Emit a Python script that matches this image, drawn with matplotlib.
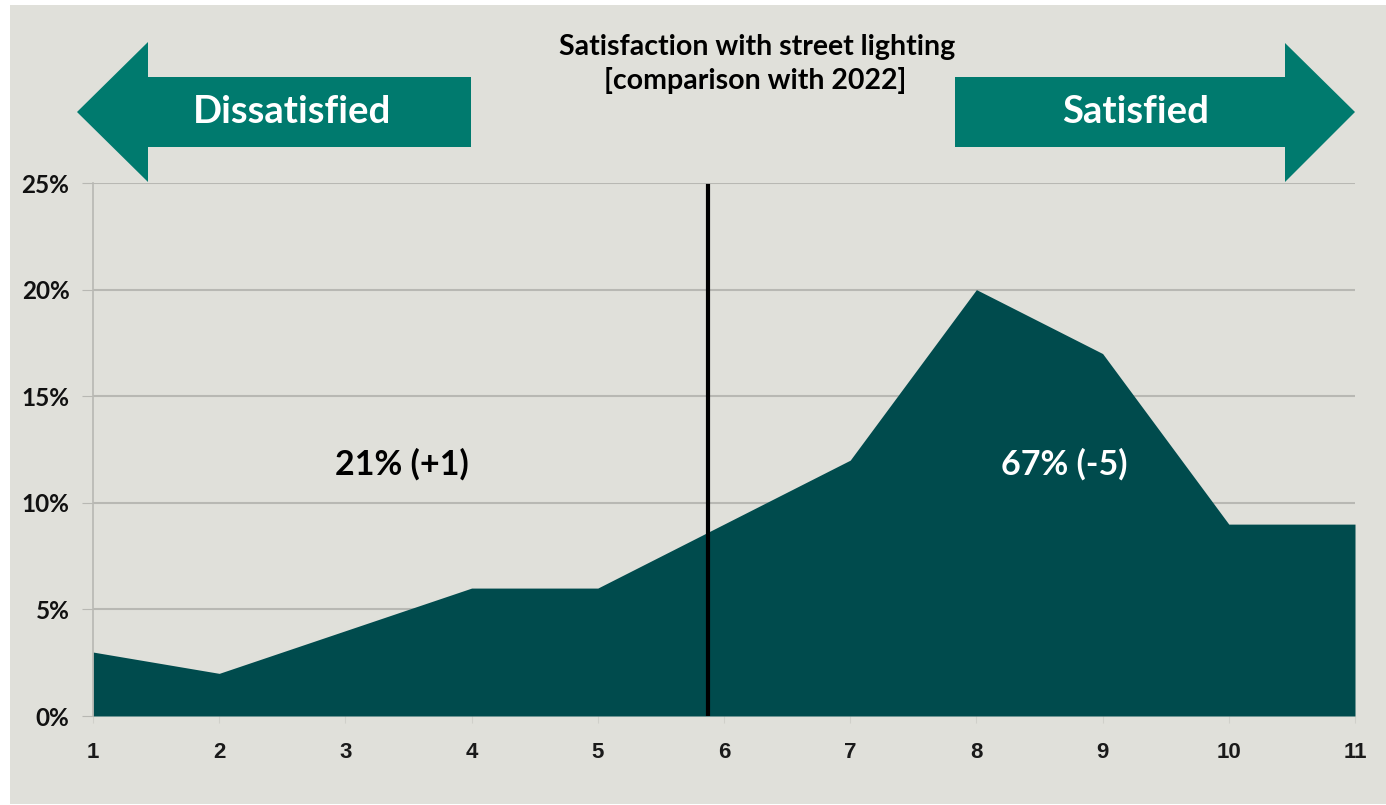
import matplotlib
matplotlib.use("Agg")
import matplotlib.pyplot as plt
from matplotlib.patches import Polygon, Rectangle
from matplotlib.ticker import PercentFormatter

# --- data ---
scores = [1, 2, 3, 4, 5, 6, 7, 8, 9, 10, 11]
share = [3, 2, 4, 6, 6, 9, 12, 20, 17, 9, 9]
split_at = 5.87
dissatisfied_label = "21% (+1)"
satisfied_label = "67% (-5)"
title_lines = ["Satisfaction with street lighting", "[comparison with 2022]"]

BG = "#e0e0da"
FILL = "#004b4d"
ARROW = "#007a6e"
GRID = "#b8b8b3"

W, H = 1386, 805
fig = plt.figure(figsize=(W / 100, H / 100), dpi=100)
fig.patch.set_facecolor("white")

# grey panel inside a thin white border
fig.patches.append(Rectangle((10 / W, 1 - 804 / H), (W - 10) / W, 799 / H,
                             transform=fig.transFigure, facecolor=BG,
                             edgecolor="none", zorder=-5))


def px(x, y):
    return (x / W, 1 - y / H)


# direction arrows
left_arrow = [px(77, 112), px(148, 42), px(148, 77), px(471, 77),
              px(471, 147), px(148, 147), px(148, 182)]
right_arrow = [px(1355, 112), px(1285, 43), px(1285, 77), px(955, 77),
               px(955, 147), px(1285, 147), px(1285, 182)]
for pts in (left_arrow, right_arrow):
    fig.patches.append(Polygon(pts, closed=True, transform=fig.transFigure,
                               facecolor=ARROW, edgecolor="none", zorder=1))

fig.text(*px(292, 112), "Dissatisfied", color="white", fontsize=27.5,
         fontweight="bold", family="Lato", ha="center", va="center", zorder=2)
fig.text(*px(1136, 112), "Satisfied", color="white", fontsize=27.5,
         fontweight="bold", family="Lato", ha="center", va="center", zorder=2)
fig.text(*px(757, 47), title_lines[0], fontsize=20.5, fontweight="bold",
         family="Lato", ha="center", va="center", zorder=2)
fig.text(*px(755, 81), title_lines[1], fontsize=20.5, fontweight="bold",
         family="Lato", ha="center", va="center", zorder=2)

ax = fig.add_axes([93 / W, 1 - 716 / H, (1355 - 93) / W, (716 - 183) / H])
ax.set_facecolor("none")
ax.fill_between(scores, share, 0, color=FILL, linewidth=0, zorder=2)
ax.axvline(split_at, ymin=0, ymax=0.995, color="black", linewidth=3, zorder=3)

ax.text(3.45, 11.8, dissatisfied_label, fontsize=24.5, fontweight="bold",
        family="Lato", color="black", ha="center", va="center")
ax.text(8.7, 11.8, satisfied_label, fontsize=24.5, fontweight="bold",
        family="Lato", color="white", ha="center", va="center", zorder=4)

ax.set_xlim(1, 11)
ax.set_ylim(0, 25)
ax.set_xticks(scores)
ax.set_yticks([0, 5, 10, 15, 20, 25])
ax.yaxis.set_major_formatter(PercentFormatter(decimals=0))
ax.grid(axis="y", color=GRID, linewidth=1.5, zorder=1)
ax.set_axisbelow(True)
for side in ("top", "right", "bottom"):
    ax.spines[side].set_visible(False)
ax.spines["left"].set_color(GRID)
ax.spines["left"].set_linewidth(1.2)
ax.tick_params(axis="y", length=8, color=GRID, pad=9)
ax.tick_params(axis="x", length=5, color="#d0d0ca", pad=14)
for lab in ax.get_xticklabels():
    lab.set_fontfamily("Liberation Sans")
    lab.set_fontweight("bold")
    lab.set_fontsize(16)
    lab.set_color("#1a1a1a")
for lab in ax.get_yticklabels():
    lab.set_fontfamily("Lato")
    lab.set_fontweight("bold")
    lab.set_fontsize(17.5)
    lab.set_color("#111111")

fig.savefig("out.png", dpi=100, facecolor=fig.get_facecolor())
